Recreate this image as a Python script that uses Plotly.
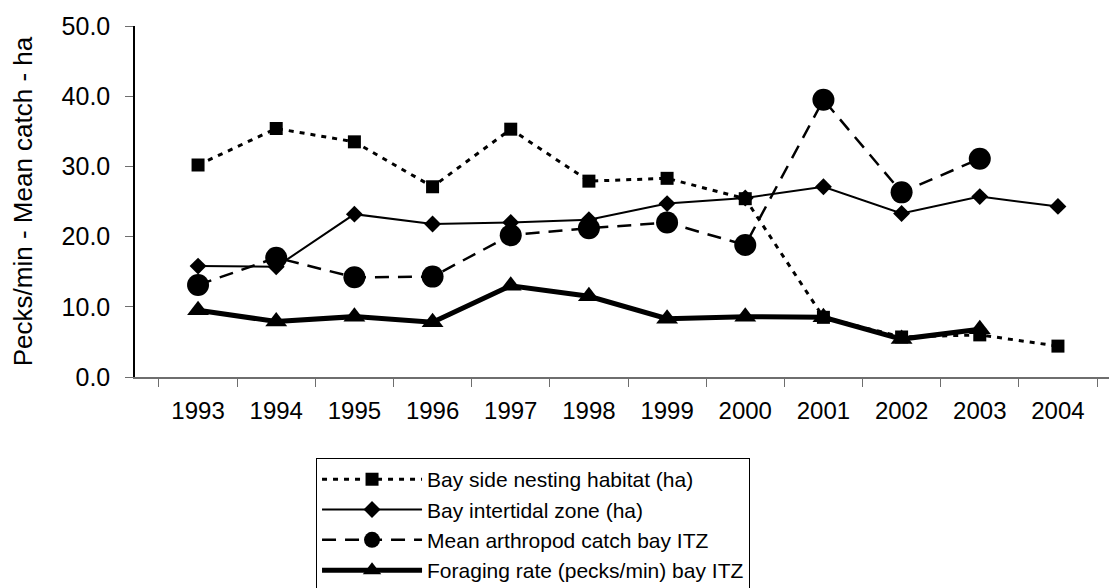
import plotly.graph_objects as go

years = ["1993", "1994", "1995", "1996", "1997", "1998",
         "1999", "2000", "2001", "2002", "2003", "2004"]

nesting_habitat = [30.2, 35.4, 33.5, 27.1, 35.3, 27.9, 28.3, 25.4, 8.5, 5.7, 6.0, 4.4]
intertidal_zone = [15.8, 15.7, 23.2, 21.8, 22.0, 22.4, 24.7, 25.5, 27.1, 23.3, 25.7, 24.3]
arthropod_catch = [13.1, 17.0, 14.2, 14.3, 20.2, 21.2, 22.0, 18.8, 39.5, 26.3, 31.1, None]
foraging_rate = [9.5, 7.9, 8.6, 7.8, 13.0, 11.5, 8.3, 8.6, 8.5, 5.4, 6.8, None]

FONT = "Arial, Liberation Sans, sans-serif"

fig = go.Figure()

fig.add_trace(go.Scatter(
    x=years, y=nesting_habitat, name="Bay side nesting habitat (ha)",
    mode="lines+markers",
    line=dict(color="black", width=3, dash="5px,6px"),
    marker=dict(symbol="square", size=13, color="black"),
))
fig.add_trace(go.Scatter(
    x=years, y=intertidal_zone, name="Bay intertidal zone (ha)",
    mode="lines+markers",
    line=dict(color="black", width=2),
    marker=dict(symbol="diamond", size=13, color="black"),
))
fig.add_trace(go.Scatter(
    x=years, y=arthropod_catch, name="Mean arthropod catch bay ITZ",
    mode="lines+markers",
    line=dict(color="black", width=2.5, dash="14px,9px"),
    marker=dict(symbol="circle", size=22, color="black"),
))
fig.add_trace(go.Scatter(
    x=years, y=foraging_rate, name="Foraging rate (pecks/min) bay ITZ",
    mode="lines+markers",
    line=dict(color="black", width=5),
    marker=dict(symbol="triangle-up", size=19, color="black"),
))

fig.update_layout(
    width=1117, height=588,
    template="plotly_white",
    plot_bgcolor="white", paper_bgcolor="white",
    margin=dict(t=18, b=211, l=127, r=4),
    font=dict(family=FONT, size=24, color="black"),
    showlegend=True,
    legend=dict(
        x=0.1836, y=-0.231, xanchor="left", yanchor="top",
        bordercolor="black", borderwidth=1,
        font=dict(size=21, color="black"),
        tracegroupgap=0, itemwidth=100,
    ),
)

fig.update_xaxes(
    type="category", automargin=False,
    showgrid=False, zeroline=False,
    showline=True, linecolor="#6e6e6e", linewidth=1.5,
    ticks="outside", ticklen=8, tickcolor="#6e6e6e", tickson="boundaries",
    ticklabelstandoff=11,
    tickfont=dict(size=24, color="black"),
)
fig.update_yaxes(
    range=[0, 50], dtick=10, tickformat=".1f", automargin=False,
    showgrid=False, zeroline=False,
    showline=True, linecolor="black", linewidth=1.5,
    ticks="outside", ticklen=8, tickcolor="#6e6e6e",
    ticklabelstandoff=10,
    tickfont=dict(size=25, color="black"),
    title=dict(text="Pecks/min - Mean catch - ha", standoff=26,
               font=dict(size=26, color="black")),
)

fig.write_html("out.html")
